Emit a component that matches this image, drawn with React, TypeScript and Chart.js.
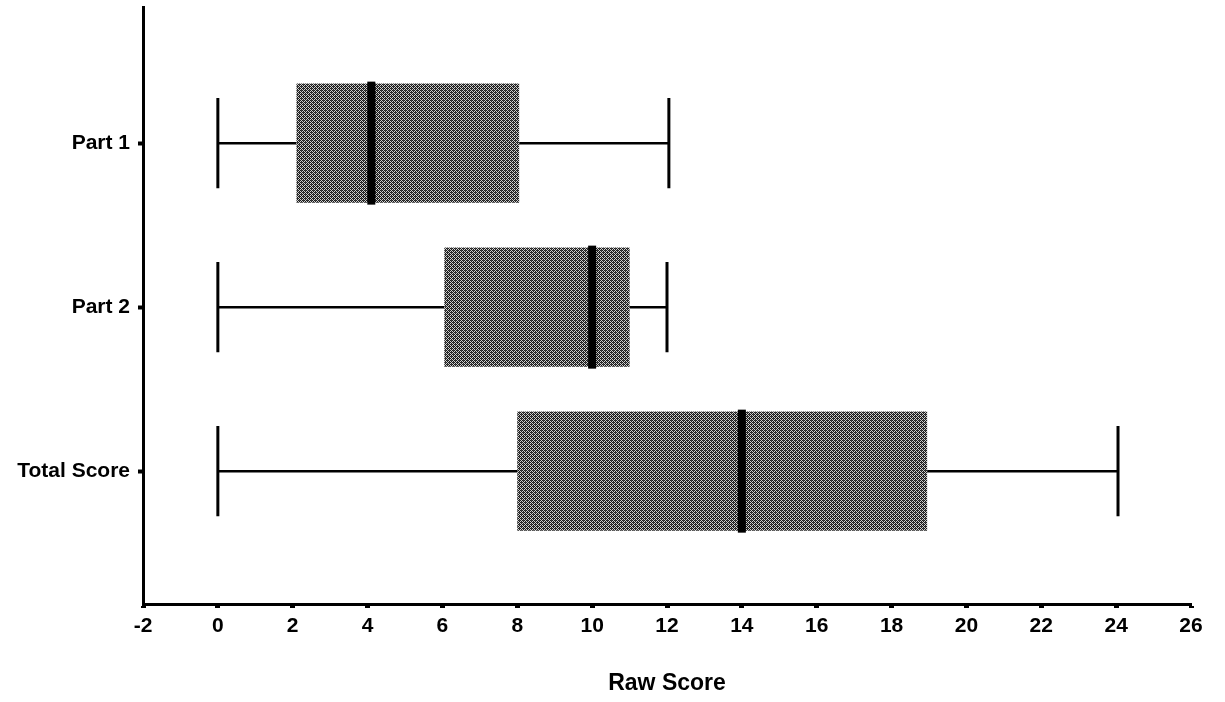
import React, { useEffect, useRef } from "react";
import { Chart, registerables } from "chart.js";

Chart.register(...registerables);

const categories = ["Part 1", "Part 2", "Total Score"];
const minValues = [0, 0, 0];
const q1Values = [2.1, 6.05, 8];
const medianValues = [4.1, 10, 14];
const q3Values = [8.05, 11, 18.95];
const maxValues = [12.05, 12, 24.05];
const xTickMin = -2;
const xTickMax = 26;
const xTickStep = 2;
const xTitle = "Raw Score";

function makePattern(): CanvasPattern | string {
  const c = document.createElement("canvas");
  c.width = 4;
  c.height = 4;
  const ctx = c.getContext("2d");
  if (!ctx) return "#777";
  ctx.fillStyle = "#cfcfcf";
  ctx.fillRect(0, 0, 4, 4);
  ctx.fillStyle = "#1a1a1a";
  for (let y = 0; y < 4; y++) {
    for (let x = 0; x < 4; x++) {
      if ((x + y) % 2 === 0) ctx.fillRect(x, y, 1, 1);
    }
  }
  ctx.fillStyle = "#444";
  ctx.fillRect(1, 2, 1, 1);
  ctx.fillRect(3, 0, 1, 1);
  const p = ctx.createPattern(c, "repeat");
  return p || "#777";
}

const boxPlugin = {
  id: "boxWhiskers",
  beforeDatasetsDraw(chart: any) {
    const { ctx, scales } = chart;
    const xs = scales.x;
    const ys = scales.y;
    ctx.save();
    ctx.strokeStyle = "#000";
    categories.forEach((_, i) => {
      const y = ys.getPixelForValue(i);
      ctx.lineWidth = 2.5;
      ctx.beginPath();
      ctx.moveTo(xs.getPixelForValue(minValues[i]), y);
      ctx.lineTo(xs.getPixelForValue(q1Values[i]), y);
      ctx.moveTo(xs.getPixelForValue(q3Values[i]), y);
      ctx.lineTo(xs.getPixelForValue(maxValues[i]), y);
      ctx.stroke();
      const capTop = ys.getPixelForValue(i - 0.275);
      const capBot = ys.getPixelForValue(i + 0.275);
      ctx.lineWidth = 3;
      ctx.beginPath();
      [minValues[i], maxValues[i]].forEach((v) => {
        const x = xs.getPixelForValue(v);
        ctx.moveTo(x, capTop);
        ctx.lineTo(x, capBot);
      });
      ctx.stroke();
    });
    ctx.restore();
  },
  afterDatasetsDraw(chart: any) {
    const { ctx, scales } = chart;
    const xs = scales.x;
    const ys = scales.y;
    ctx.save();
    ctx.fillStyle = "#000";
    categories.forEach((_, i) => {
      const x = xs.getPixelForValue(medianValues[i]);
      const top = ys.getPixelForValue(i - 0.375);
      const bot = ys.getPixelForValue(i + 0.375);
      ctx.fillRect(x - 4, top, 8, bot - top);
    });
    ctx.restore();
  },
};

export default function App() {
  const ref = useRef<HTMLCanvasElement>(null);
  useEffect(() => {
    if (!ref.current) return;
    const pattern = makePattern();
    const font = { family: "'Liberation Sans', Arial, sans-serif", size: 21, weight: "bold" as const };
    const chart = new Chart(ref.current, {
      type: "bar",
      data: {
        datasets: [
          {
            data: categories.map((_, i) => ({ y: i, x: [q1Values[i], q3Values[i]] })) as any,
            backgroundColor: pattern as any,
            borderWidth: 0,
            categoryPercentage: 1,
            barPercentage: 0.726,
          },
        ],
      },
      options: {
        indexAxis: "y",
        animation: false,
        responsive: false,
        events: [],
        layout: { padding: { top: 7, right: 34, left: 0, bottom: 0 } },
        plugins: { legend: { display: false }, tooltip: { enabled: false } },
        scales: {
          x: {
            type: "linear",
            min: xTickMin,
            max: xTickMax,
            offset: false,
            ticks: { stepSize: xTickStep, color: "#000", font, padding: 6, maxRotation: 0 },
            grid: {
              display: true,
              offset: false,
              drawOnChartArea: false,
              drawTicks: true,
              tickLength: 4,
              tickWidth: 5,
              tickColor: "#000",
            },
            border: { display: true, color: "#000", width: 3 },
            title: {
              display: true,
              text: xTitle,
              color: "#000",
              font: { family: "'Liberation Sans', Arial, sans-serif", size: 23, weight: "bold" },
              padding: { top: 0, bottom: 5 },
            },
            afterFit(scale: any) {
              scale.height = 98;
            },
          },
          y: {
            type: "linear",
            reverse: true,
            min: -0.83,
            max: 2.81,
            offset: false,
            afterBuildTicks(scale: any) {
              scale.ticks = categories.map((_, i) => ({ value: i }));
            },
            ticks: {
              color: "#000",
              font,
              padding: 8,
              callback: (v: any) => categories[v as number] ?? "",
            },
            grid: {
              display: true,
              offset: false,
              drawOnChartArea: false,
              drawTicks: true,
              tickLength: 5,
              tickWidth: 4,
              tickColor: "#000",
            },
            border: { display: true, color: "#000", width: 3 },
            afterFit(scale: any) {
              scale.width = 143;
              scale.paddingTop = 0;
              scale.paddingBottom = 0;
            },
          },
        },
      },
      plugins: [boxPlugin],
    });
    return () => chart.destroy();
  }, []);
  return (
    <div style={{ position: "fixed", left: 0, top: 0, width: 1225, height: 702, background: "#fff" }}>
      <canvas ref={ref} width={1225} height={702} style={{ display: "block" }} />
    </div>
  );
}
